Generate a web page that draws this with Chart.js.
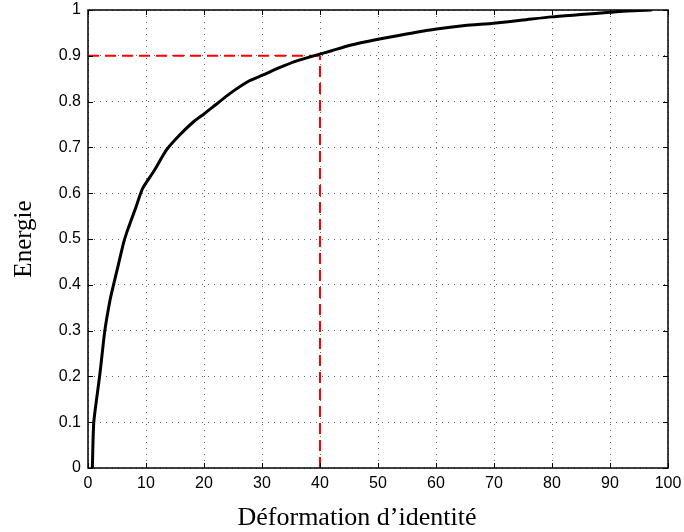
<!DOCTYPE html>
<html>
<head>
<meta charset="utf-8">
<script src="https://cdn.jsdelivr.net/npm/chart.js@4/dist/chart.umd.min.js"></script>
<style>
  html, body { margin: 0; padding: 0; background: #ffffff; }
  #wrap { width: 684px; height: 532px; }
</style>
</head>
<body>
<div id="wrap"><canvas id="c" width="684" height="532"></canvas></div>
<script>
// ---- data ----
const curveX = [0.75, 1.0, 2.0, 2.3, 2.9, 3.8, 4.4, 5.2, 6.1, 6.7, 7.55, 8.2, 9.4, 11.45, 13.5, 15.8, 18.2, 20, 21.9, 24.5, 27.9, 30, 33, 36, 39.8, 42, 45.2, 50, 53.8, 56, 59.8, 65, 69.9, 75, 79.9, 85, 90, 93, 97.2];
const curveY = [0, 0.1, 0.2, 0.233, 0.3, 0.367, 0.4, 0.442, 0.49, 0.515, 0.545, 0.567, 0.61, 0.65, 0.694, 0.727, 0.756, 0.773, 0.792, 0.818, 0.846, 0.857, 0.874, 0.889, 0.903, 0.911, 0.923, 0.936, 0.945, 0.95, 0.958, 0.966, 0.971, 0.978, 0.985, 0.99, 0.995, 0.998, 1.0];
const thresholdX = 40;
const thresholdY = 0.9;
const xTickValues = [0, 10, 20, 30, 40, 50, 60, 70, 80, 90, 100];
const yTickLabels = ['0', '0.1', '0.2', '0.3', '0.4', '0.5', '0.6', '0.7', '0.8', '0.9', '1'];
const xTitle = 'Déformation d’identité';
const yTitle = 'Energie';

const curvePoints = curveX.map((x, i) => ({ x: x, y: curveY[i] }));
const hLine = [{ x: 0, y: thresholdY }, { x: thresholdX, y: thresholdY }];
const vLine = [{ x: thresholdX, y: 0 }, { x: thresholdX, y: thresholdY }];

const frame = {
  id: 'frame',
  afterDatasetsDraw(chart) {
    const { ctx, chartArea: a, scales } = chart;
    ctx.save();
    ctx.strokeStyle = '#000';
    ctx.lineWidth = 1;
    const L = 5;
    ctx.beginPath();
    scales.x.ticks.forEach(t => {
      const px = Math.round(scales.x.getPixelForValue(t.value)) + 0.5;
      ctx.moveTo(px, a.bottom); ctx.lineTo(px, a.bottom - L);
      ctx.moveTo(px, a.top); ctx.lineTo(px, a.top + L);
    });
    scales.y.ticks.forEach(t => {
      const py = Math.round(scales.y.getPixelForValue(t.value)) + 0.5;
      ctx.moveTo(a.left, py); ctx.lineTo(a.left + L, py);
      ctx.moveTo(a.right, py); ctx.lineTo(a.right - L, py);
    });
    ctx.stroke();
    ctx.lineWidth = 1.5;
    ctx.strokeRect(a.left, a.top, a.right - a.left, a.bottom - a.top);
    // x axis title
    ctx.fillStyle = '#000';
    ctx.font = '26px "Liberation Serif"';
    ctx.textAlign = 'center';
    ctx.textBaseline = 'alphabetic';
    ctx.fillText(xTitle, (a.left + a.right) / 2 - 21, 525);
    ctx.restore();
  }
};

function zeroPad(s) { s.paddingTop = 0; s.paddingBottom = 0; s.paddingLeft = 0; s.paddingRight = 0; }

new Chart(document.getElementById('c'), {
  type: 'scatter',
  data: {
    datasets: [
      { data: hLine, showLine: true, borderColor: '#ff0000', borderWidth: 2, borderDash: [11, 6], pointRadius: 0, order: 2 },
      { data: vLine, showLine: true, borderColor: '#ff0000', borderWidth: 2, borderDash: [11, 6], pointRadius: 0, order: 2 },
      { data: curvePoints, showLine: true, borderColor: '#000000', borderWidth: 3, pointRadius: 0, tension: 0.2, order: 1 }
    ]
  },
  options: {
    responsive: false,
    animation: false,
    devicePixelRatio: 1,
    layout: { padding: { left: 0, right: 16, top: 10, bottom: 0 } },
    plugins: { legend: { display: false }, tooltip: { enabled: false } },
    scales: {
      x: {
        type: 'linear', min: 0, max: 100,
        afterFit(s) { s.height = 64; zeroPad(s); },
        afterBuildTicks(s) { s.ticks = xTickValues.map(v => ({ value: v })); },
        ticks: { color: '#000', padding: 6, font: { family: 'Liberation Sans', size: 16 }, maxRotation: 0,
                 callback: v => String(v) },
        grid: { drawTicks: false, color: 'rgba(0,0,0,0.6)', lineWidth: 1 },
        border: { display: false, dash: [1, 5] },
        title: { display: false, text: xTitle }
      },
      y: {
        type: 'linear', min: 0, max: 1,
        afterFit(s) { s.width = 88; zeroPad(s); },
        afterBuildTicks(s) { s.ticks = yTickLabels.map(l => ({ value: parseFloat(l) })); },
        ticks: { color: '#000', padding: 7, font: { family: 'Liberation Sans', size: 16 },
                 callback: (v, i) => yTickLabels[i] },
        grid: { drawTicks: false, color: 'rgba(0,0,0,0.6)', lineWidth: 1 },
        border: { display: false, dash: [1, 5] },
        title: { display: true, text: yTitle, color: '#000', font: { family: 'Liberation Serif', size: 25 }, padding: { top: 9, bottom: 0 } }
      }
    }
  },
  plugins: [frame]
});
</script>
</body>
</html>
